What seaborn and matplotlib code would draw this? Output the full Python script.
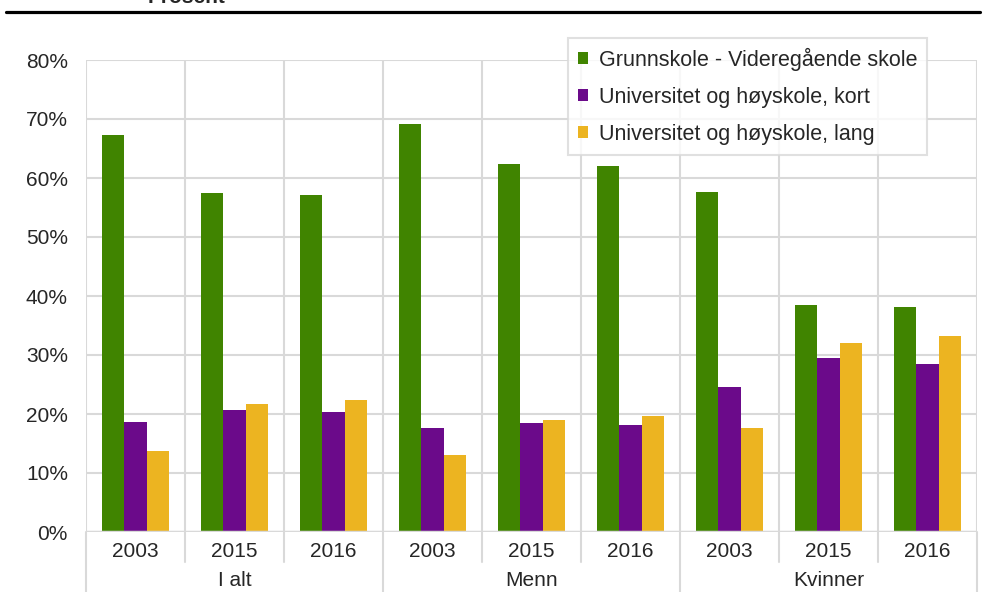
import pandas as pd
import matplotlib.pyplot as plt
import matplotlib.transforms as mtransforms
import seaborn as sns

groups = ['I alt', 'Menn', 'Kvinner']
years = ['2003', '2015', '2016']
levels = ['Grunnskole - Videregående skole',
          'Universitet og høyskole, kort',
          'Universitet og høyskole, lang']

grunnskole = [67.3, 57.5, 57.1, 69.2, 62.4, 62.0, 57.6, 38.5, 38.1]
uni_kort = [18.6, 20.7, 20.3, 17.6, 18.5, 18.1, 24.6, 29.5, 28.5]
uni_lang = [13.7, 21.7, 22.4, 13.1, 19.0, 19.7, 17.6, 32.0, 33.2]

colors = ['#408400', '#6b0a8a', '#ecb421']


def build_frame():
    cats = [f'{g} {y}' for g in groups for y in years]
    rows = []
    for lvl, vals in zip(levels, [grunnskole, uni_kort, uni_lang]):
        for c, v in zip(cats, vals):
            rows.append({'Kategori': c, 'Utdanning': lvl, 'Prosent': v / 100})
    return pd.DataFrame(rows), cats


def draw(df, cats):
    sns.set_style('white')
    plt.rcParams['font.family'] = ['Liberation Sans', 'DejaVu Sans']
    fs = 15
    fig = plt.figure(figsize=(9.85, 5.92), dpi=100)
    ax = fig.add_axes([86 / 985, 1 - 532 / 592, 891 / 985, 472 / 592])

    sns.barplot(data=df, x='Kategori', y='Prosent', hue='Utdanning',
                order=cats, hue_order=levels, palette=colors, saturation=1,
                width=0.667, ax=ax, edgecolor='none', zorder=3)

    grid = '#d9d9d9'
    ax.set_ylim(0, 0.8)
    ax.set_xlim(-0.5, len(cats) - 0.5)
    ax.set_yticks([i / 10 for i in range(9)])
    ax.set_yticklabels([f'{i * 10}%' for i in range(9)], fontsize=fs)
    ax.tick_params(axis='y', length=0, pad=13)
    ax.yaxis.grid(True, color=grid, linewidth=1.5, zorder=0)
    for s in ax.spines.values():
        s.set_visible(False)
    ax.axhline(0, color=grid, linewidth=2.5, zorder=4)

    # category labels below axis
    ax.set_xticks(range(len(cats)))
    ax.set_xticklabels(years * len(groups), fontsize=fs)
    ax.tick_params(axis='x', length=0, pad=7)
    ax.set_xlabel('')
    ax.set_ylabel('')

    trans = mtransforms.blended_transform_factory(ax.transData, ax.transAxes)
    for i in range(len(cats) + 1):
        x = i - 0.5
        major = i % 3 == 0
        ax.axvline(x, color=grid, linewidth=1.5, zorder=1)
        ax.plot([x, x], [0, -0.128 if major else -0.064], color=grid,
                linewidth=1.5, transform=trans, clip_on=False)
    for j, g in enumerate(groups):
        ax.text(3 * j + 1, -0.103, g, transform=trans, ha='center',
                va='center', fontsize=fs)

    leg = ax.legend(loc='upper right', bbox_to_anchor=(927 / 985, 1 - 38 / 592),
                    bbox_transform=fig.transFigure, fontsize=15.5,
                    frameon=True, fancybox=False, handlelength=0.48,
                    handleheight=0.48, handletextpad=0.5, labelspacing=0.75,
                    borderpad=0.45, borderaxespad=0)
    leg.get_frame().set_edgecolor(grid)
    leg.get_frame().set_linewidth(1.5)
    leg.set_zorder(5)

    fig.text(148 / 985, 1.004, 'Prosent', fontsize=fs, fontweight='bold',
             va='center', ha='left')
    fig.add_artist(plt.Line2D([6 / 985, 980 / 985], [1 - 12 / 592] * 2,
                              color='black', linewidth=2.3))

    fig.savefig('out.png', dpi=100)


if __name__ == '__main__':
    df, cats = build_frame()
    draw(df, cats)
